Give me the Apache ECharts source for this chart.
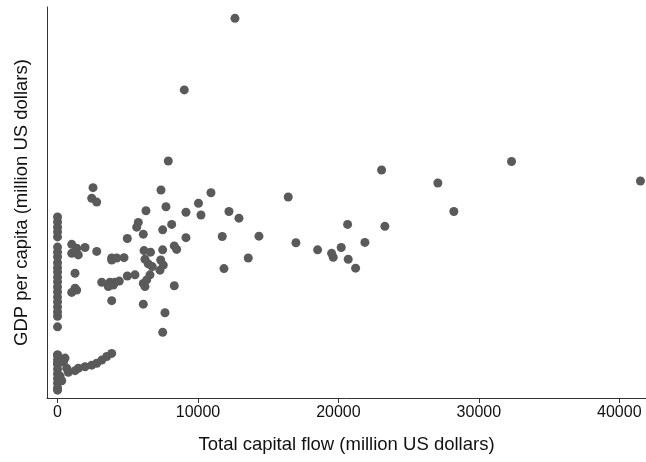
<!DOCTYPE html>
<html>
<head>
<meta charset="utf-8">
<script src="https://cdn.jsdelivr.net/npm/echarts@6/dist/echarts.min.js"></script>
<style>
  html, body { margin: 0; padding: 0; background: #fff; }
  #chart { width: 646px; height: 462px; }
</style>
</head>
<body>
<div id="chart"></div>
<script>
// x: total capital flow (million US dollars), y: GDP per capita (relative, axis has no labels)
const capitalFlow = [
  12633, 9024, 7886, 23073, 32325, 27080, 41506, 28219, 16426, 10925,
  2527, 7366, 2434, 2790, 6298, 7722, 9145, 10035, 10213, 12205,
  12917, 11729, 14341, 13579, 11850, 16974, 18518, 19515, 19629, 20198,
  20653, 20696, 21223, 21885, 23308, 5750, 5637, 6106, 7487, 8128,
  4968, 9145, 6160, 6619, 7487, 8313, 8483, 3857, 4213, 4733,
  6227, 6462, 6747, 7345, 7530, 7295, 4968, 5516, 6583, 6348,
  6106, 6227, 3736, 4092, 4398, 3857, 6106, 8313, 7651, 7487,
  1011, 1366, 1957, 1011, 1480, 2790, 3857, 1245, 1366, 1011,
  1245, 3146, 3615, 3971,
  3857, 3502, 3146, 2790, 2434, 1957, 1480, 1245,
  0, 0, 0, 0, 0, 0, 0, 0, 0, 0, 0, 0, 0, 0, 0, 0, 0, 0, 0, 0, 0, 0, 0,
  0, 0, 0, 0, 0, 0, 0, 0, 0, 655, 534, 769, 300, 420, 180, 240, 600
];
const gdpPerCapita = [
  97.1, 78.8, 60.6, 58.3, 60.5, 55.0, 55.5, 47.7, 51.4, 52.5,
  53.8, 53.2, 51.1, 50.1, 47.9, 48.9, 47.5, 49.8, 46.8, 47.7,
  46.0, 41.3, 41.4, 35.8, 33.1, 39.7, 37.9, 37.0, 36.0, 38.5,
  44.4, 35.5, 33.2, 39.8, 43.9, 44.9, 43.7, 41.9, 43.0, 44.4,
  40.8, 41.0, 37.7, 37.3, 37.9, 38.9, 38.0, 35.8, 35.8, 35.9,
  35.5, 34.3, 33.6, 35.3, 34.0, 32.7, 31.2, 31.5, 31.5, 30.2,
  29.3, 28.5, 29.6, 29.6, 29.9, 24.9, 24.0, 28.7, 21.8, 16.8,
  39.3, 38.3, 38.5, 37.0, 36.6, 37.5, 35.3, 31.9, 27.6, 27.0,
  28.1, 29.6, 28.5, 28.9,
  11.4, 10.6, 9.7, 8.9, 8.4, 8.0, 7.6, 7.0,
  46.3, 45.0, 43.7, 42.5, 41.2, 38.6, 37.3, 36.1, 34.6, 33.3, 32.2, 30.9, 29.7, 28.4, 27.1, 25.8, 24.6, 23.3, 22.0, 20.9, 18.2,
  11.0, 9.8, 8.6, 7.4, 6.2, 5.0, 3.8, 2.6, 2.0, 11.0, 8.9, 7.6, 10.2, 6.6, 4.4, 9.2, 5.6
];
const xTicks = [0, 10000, 20000, 30000, 40000];

const chart = echarts.init(document.getElementById('chart'), null, { renderer: 'canvas' });

const option = {
  animation: false,
  textStyle: { fontFamily: 'Liberation Sans' },
  grid: { left: 47, right: 0, top: 7, bottom: 64 },
  xAxis: {
    type: 'value',
    min: -750,
    max: 41900,
    name: 'Total capital flow (million US dollars)',
    nameLocation: 'middle',
    nameGap: 37,
    nameTextStyle: { fontSize: 18.5, color: '#111' },
    axisLine: { lineStyle: { color: '#333', width: 1 } },
    axisTick: { show: true, length: 5, customValues: xTicks, lineStyle: { color: '#333' } },
    axisLabel: {
      customValues: xTicks,
      fontSize: 16,
      color: '#111',
      margin: 7,
      formatter: (v) => String(v)
    },
    splitLine: { show: false }
  },
  yAxis: {
    type: 'value',
    min: 0,
    max: 100,
    name: 'GDP per capita (million US dollars)',
    nameLocation: 'middle',
    nameGap: 16,
    nameTextStyle: { fontSize: 18.5, color: '#111' },
    axisLine: { show: true, onZero: false, lineStyle: { color: '#333', width: 1 } },
    axisTick: { show: false },
    axisLabel: { show: false },
    splitLine: { show: false }
  },
  series: [{
    type: 'scatter',
    symbolSize: 9,
    itemStyle: { color: '#5a5a5a', opacity: 1 },
    data: capitalFlow.map((x, i) => [x, gdpPerCapita[i]])
  }]
};

chart.setOption(option);
</script>
</body>
</html>
